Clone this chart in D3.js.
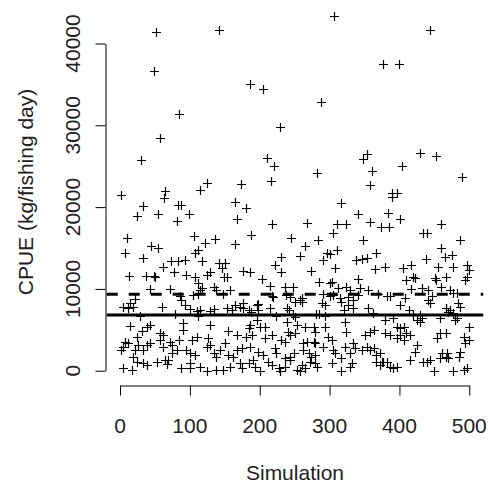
<!DOCTYPE html>
<html>
<head>
<meta charset="utf-8">
<script src="https://cdn.jsdelivr.net/npm/d3@7"></script>
<style>
  body { margin: 0; background: #fff; }
  text { font-family: "Liberation Sans", Arial, sans-serif; }
</style>
</head>
<body>
<script>
// simulation index, CPUE (kg/fishing day)
// upper part (above ~6500)
const pointsHigh = [
  [52,41370],[141,41650],[48,36680],[84,31380],[57,28450],[30,25760],[125,22980],[114,22090],[65,22000],[1,21480],[63,21110],[173,22860],
  [307,43360],[186,35050],[205,34400],[288,32890],[229,29750],[210,26000],[220,25030],[282,24130],[216,23150],
  [444,41650],[376,37530],[400,37530],[354,26490],[348,25840],[429,26610],[452,26280],[361,24410],[403,24980],[489,23680],[358,22660],
  [389,21760],[396,21760],[390,21270],
  [33,20170],[83,20260],[87,20260],[24,18910],[54,19120],[99,19120],[81,18300],[165,20660],[167,18550],
  [10,16190],[106,16470],[45,15280],[55,15040],[136,16060],[122,15570],[164,15450],
  [7,14350],[33,13740],[107,14430],[111,14760],[73,13450],[83,13450],[93,13530],[118,13450],
  [62,12710],[78,12100],[141,13130],[150,13200],[146,12520],
  [13,11580],[37,11580],[48,11580],[50,11500],[95,11700],[107,11420],[129,12100],[124,11700],[149,11420],[153,11420],
  [112,10680],[43,9950],[72,9950],[86,9130],[88,8640],[105,9250],[111,9380],[114,9860],[117,10070],
  [135,10270],[138,9860],[148,9380],[157,9860],
  [22,8730],[14,8240],[5,7750],[12,7630],[60,7820],[19,7830],[153,7620],
  [93,8030],[100,7510],[110,7330],[114,7420],[129,7330],[134,7540],[165,8030],[160,7420],
  [29,6690],[79,6930],[112,6690],
  [180,19850],[218,17930],[267,18010],[311,17890],[324,17890],[317,20460],[341,19150],
  [187,16590],[305,16870],[245,16180],[265,15240],[284,15970],[311,14750],[297,14430],[300,14260],
  [231,13940],[257,14020],[290,13530],[338,13530],[222,12920],[230,12100],[308,12510],[176,12180],[186,12100],[273,12180],
  [203,11170],[285,10880],[300,10680],[304,10880],[341,11170],[215,10350],[236,10270],[248,10270],
  [312,10070],[324,10190],[329,9860],
  [217,9130],[219,9050],[238,9250],[243,9050],[260,8840],[257,8640],[290,9370],[300,9130],[305,9250],
  [315,8840],[327,9050],[334,8640],[341,9250],
  [176,8310],[198,8110],[196,8030],[214,7620],[239,7620],[242,7420],[289,8310],[293,8030],[327,8030],[333,7620],
  [198,7420],[251,8440],[260,8440],[317,8440],[320,7420],
  [172,7750],[176,7620],[184,7420],[188,7210],[224,6690],[248,6810],[250,6600],[281,6930],[285,6930],[293,6690],
  [383,19230],[358,18220],[401,18500],[374,17520],[385,17520],[459,17890],[348,15970],[434,16790],[440,16790],[486,15970],
  [367,14430],[346,13610],[353,13730],[460,14960],[465,13940],[475,14140],[438,13610],
  [365,12390],[379,12630],[405,12510],[417,12920],[455,12710],[477,12710],[496,12920],[500,12310],
  [410,11090],[422,11290],[420,11490],[451,11290],[453,11090],[467,11490],[496,11410],[494,11090],
  [343,10070],[355,9860],[370,9370],[382,9130],[386,9130],[417,9940],[432,10070],[441,9860],
  [446,9130],[444,8230],[441,8640],[460,10270],[472,9860],[477,9450],[482,9450],
  [408,8840],[401,8030],[413,7420],[355,7620],[362,7010],[472,7420],[467,7620],[486,7820],
  [484,8240],[470,7210],[477,7010],[420,6810],[429,6810],[466,7620]
];

// lower band (below the solid line)
const pointsLow = [
  [14,5460],[38,5380],[43,5580],[90,5790],[129,5580],
  [31,4890],[90,4970],[57,4570],[62,4360],[154,4890],[167,4360],[24,4160],[110,4160],[126,3950],
  [7,3550],[12,3340],[57,3750],[72,3550],[84,3750],[103,3750],[150,3340],[74,3140],[26,3140],[38,3140],[43,3340],[129,3140],
  [5,2930],[2,2530],[22,2530],[33,2530],[62,2930],[81,2530],[95,2530],[124,2930],[143,2530],[167,2530],[74,2120],[100,2120],[134,2120],
  [107,1920],[155,1920],[162,1710],[138,1710],[19,1710],[24,1100],[33,900],[38,690],[53,1100],[64,1300],[69,1300],[67,810],
  [5,290],[17,80],[88,290],[100,290],[100,900],[115,490],[124,0],[138,80],[148,80],[157,490],
  [186,5590],[184,5180],[196,6200],[200,5380],[208,5380],[239,6000],[253,5590],[265,5380],[277,5380],[293,5380],[322,6000],[324,4770],
  [181,4160],[189,4360],[208,3950],[217,4360],[243,4360],[241,4770],[236,3550],[231,3750],[251,4570],[279,4770],[298,4160],[303,3750],
  [262,3340],[267,3550],[279,3340],[277,3550],[291,2930],[322,2930],[334,3340],[336,2730],[174,2730],[186,2930],
  [198,2330],[205,1920],[222,2730],[224,2120],[249,2120],[243,1710],[262,2530],[270,2120],[274,1710],[279,1920],
  [305,2530],[308,2120],[317,1510],[329,2120],[346,2530],
  [172,900],[184,900],[191,1300],[212,1100],[217,690],[236,1510],[243,1300],[236,490],
  [260,690],[265,290],[253,80],[258,0],[272,1100],[279,900],[282,490],[303,900],[317,0],[329,490],[332,900],
  [193,490],[200,0],[227,290],[229,0],[174,290],
  [379,6200],[391,6400],[425,6200],[429,6000],[432,6400],[458,6400],[482,6400],[480,6200],
  [396,5380],[401,5180],[406,5380],[499,5380],
  [358,4770],[351,4360],[363,4970],[379,4570],[387,4360],[401,4360],[410,4570],[415,4360],[396,3950],[406,3750],
  [458,4570],[466,4570],[454,3950],[492,4160],[499,3750],[494,3340],
  [353,2930],[358,2530],[363,2730],[372,2120],[367,1920],[425,3140],[422,2330],[415,1300],
  [434,1100],[439,1100],[444,1300],[458,1510],[466,1710],[470,1510],[485,1710],[487,2330],[461,2120],[468,2120],
  [367,1100],[375,1100],[377,1100],[382,1100],[387,490],[391,290],[396,490],
  [449,0],[477,0],[492,80],[496,290],[372,690]
];

const meanCpue = 6800;    // solid line
const upperCpue = 9350;   // dashed line
const xTicks = [0, 100, 200, 300, 400, 500];
const yTicks = [0, 10000, 20000, 30000, 40000];

const points = pointsHigh.concat(pointsLow);

const width = 488, height = 483;

const svg = d3.select("body").append("svg")
	.attr("width", width)
	.attr("height", height);

const x = d3.scaleLinear().domain([0, 500]).range([120, 469.3]);
const y = d3.scaleLinear().domain([0, 40000]).range([370.7, 43.5]);

// plot region limits (R adds 4% on each side)
const xLeft = x(-19), xRight = x(520);

// axes
svg.append("g")
	.attr("transform", "translate(0,385.5)")
	.call(d3.axisBottom(x).tickValues(xTicks).tickSizeInner(10).tickSizeOuter(0).tickFormat(""));
svg.append("g")
	.attr("transform", "translate(105.5,0)")
	.call(d3.axisLeft(y).tickValues(yTicks).tickSizeInner(10).tickSizeOuter(0).tickFormat(""));
svg.selectAll(".domain, .tick line").attr("stroke", "#000").attr("stroke-width", 1);

svg.selectAll(".xlab").data(xTicks).enter().append("text")
	.attr("class", "xlab")
	.attr("x", d => x(d))
	.attr("y", 433)
	.attr("text-anchor", "middle")
	.style("font-size", "21px")
	.style("fill", "#222")
	.text(d => d);

svg.selectAll(".ylab").data(yTicks).enter().append("text")
	.attr("class", "ylab")
	.attr("transform", d => `translate(80,${y(d)}) rotate(-90)`)
	.attr("text-anchor", "middle")
	.style("font-size", "21px")
	.style("fill", "#222")
	.text(d => d);

svg.append("text")
	.attr("x", (xLeft + xRight) / 2)
	.attr("y", 480)
	.attr("text-anchor", "middle")
	.style("font-size", "21px")
	.style("fill", "#222")
	.text("Simulation");

svg.append("text")
	.attr("transform", `translate(33,192) rotate(-90)`)
	.attr("text-anchor", "middle")
	.style("font-size", "21px")
	.style("fill", "#222")
	.text("CPUE (kg/fishing day)");

// points as "+", snapped to pixel centres so they stay crisp
const s = 4.5;
svg.append("g").selectAll("path").data(points).enter().append("path")
	.attr("d", d => {
		const px = Math.round(x(d[0])) + 0.5, py = Math.round(y(d[1])) + 0.5;
		return `M${px - s},${py}H${px + s}M${px},${py - s}V${py + s}`;
	})
	.attr("stroke", "#000")
	.attr("stroke-width", 1.2)
	.attr("fill", "none");

// reference lines
svg.append("line")
	.attr("x1", xLeft).attr("x2", xRight)
	.attr("y1", y(meanCpue)).attr("y2", y(meanCpue))
	.attr("stroke", "#000").attr("stroke-width", 3);
svg.append("line")
	.attr("x1", xLeft).attr("x2", xRight)
	.attr("y1", y(upperCpue)).attr("y2", y(upperCpue))
	.attr("stroke", "#000").attr("stroke-width", 3)
	.attr("stroke-dasharray", "11,11");
</script>
</body>
</html>
